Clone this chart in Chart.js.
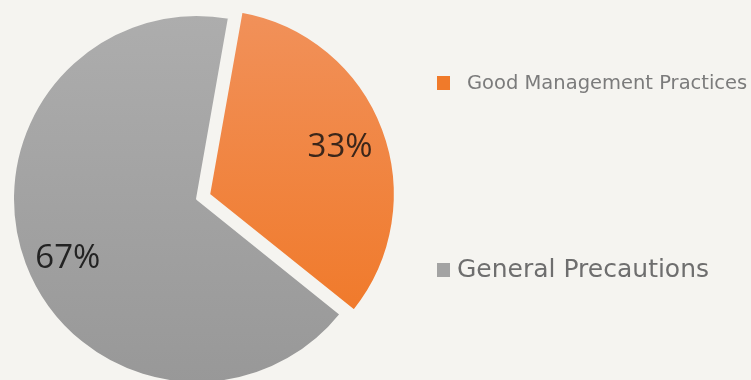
<!DOCTYPE html>
<html>
<head>
<meta charset="utf-8">
<script src="https://cdn.jsdelivr.net/npm/chart.js@4"></script>
<style>
  html, body { margin: 0; padding: 0; background: #f5f4f0; overflow: hidden; }
  #wrap { position: relative; width: 751px; height: 380px; }
</style>
</head>
<body>
<div id="wrap"><canvas id="pie" width="751" height="380"></canvas></div>
<script>
// dados do gráfico
const labels = ['Good Management Practices', 'General Precautions'];
const values = [33, 67];
const colorsTop = ['#f1915a', '#adadad'];
const colorsBottom = ['#f07521', '#989898'];
const legendColors = ['#f07a2a', '#a3a3a3'];

// gradiente vertical para cada fatia
function sliceGradient(context) {
    const chart = context.chart;
    const i = context.dataIndex;
    const ctx = chart.ctx;
    const g = ctx.createLinearGradient(0, 15, 0, 383);
    g.addColorStop(0, colorsTop[i]);
    g.addColorStop(1, colorsBottom[i]);
    return g;
}

// rótulos de porcentagem e legenda desenhados à mão
const labelPlugin = {
    id: 'pctLabels',
    afterDatasetsDraw(chart) {
        const ctx = chart.ctx;
        const meta = chart.getDatasetMeta(0);
        const factors = [0.76, 0.77];
        const nudge = [0, -3.6 * Math.PI / 180];
        const textColors = ['#3b261a', '#232323'];
        ctx.save();
        ctx.font = '33px "Open Sans", sans-serif';
        ctx.textAlign = 'center';
        ctx.textBaseline = 'middle';
        meta.data.forEach((arc, i) => {
            const p = arc.getProps(['x', 'y', 'startAngle', 'endAngle', 'outerRadius'], true);
            const mid = (p.startAngle + p.endAngle) / 2;
            // o Chart.js desloca a fatia por offset / 4
            const off = (chart.data.datasets[0].offset[i] || 0) / 4;
            const cx = p.x + Math.cos(mid) * off;
            const cy = p.y + Math.sin(mid) * off;
            const r = p.outerRadius * factors[i];
            const a = mid + nudge[i];
            ctx.fillStyle = textColors[i];
            ctx.fillText(values[i] + '%', cx + Math.cos(a) * r, cy + Math.sin(a) * r + 2);
        });

        // legenda
        const legend = [
            { x: 437, y: 76, box: 13, font: '19.5px "DejaVu Sans", sans-serif', tx: 467, ty: 84, color: '#7b7b7b' },
            { x: 437, y: 263, box: 13, font: '25px "DejaVu Sans", sans-serif', tx: 457, ty: 270, color: '#6e6e6e' }
        ];
        ctx.textAlign = 'left';
        legend.forEach((l, i) => {
            ctx.fillStyle = legendColors[i];
            ctx.fillRect(l.x, l.y, l.box, l.box + 1);
            ctx.font = l.font;
            ctx.fillStyle = l.color;
            ctx.fillText(labels[i], l.tx, l.ty);
        });
        ctx.restore();
    }
};

new Chart(document.getElementById('pie'), {
    type: 'pie',
    data: {
        labels: labels,
        datasets: [{
            data: values,
            backgroundColor: sliceGradient,
            borderColor: '#f5f4f0',
            borderWidth: 2,
            offset: [52, 0]
        }]
    },
    options: {
        responsive: false,
        animation: false,
        rotation: 10,
        radius: 184,
        layout: { padding: { left: 0, right: 357, top: 18, bottom: 0 } },
        plugins: {
            legend: { display: false },
            tooltip: { enabled: false }
        }
    },
    plugins: [labelPlugin]
});
</script>
</body>
</html>
